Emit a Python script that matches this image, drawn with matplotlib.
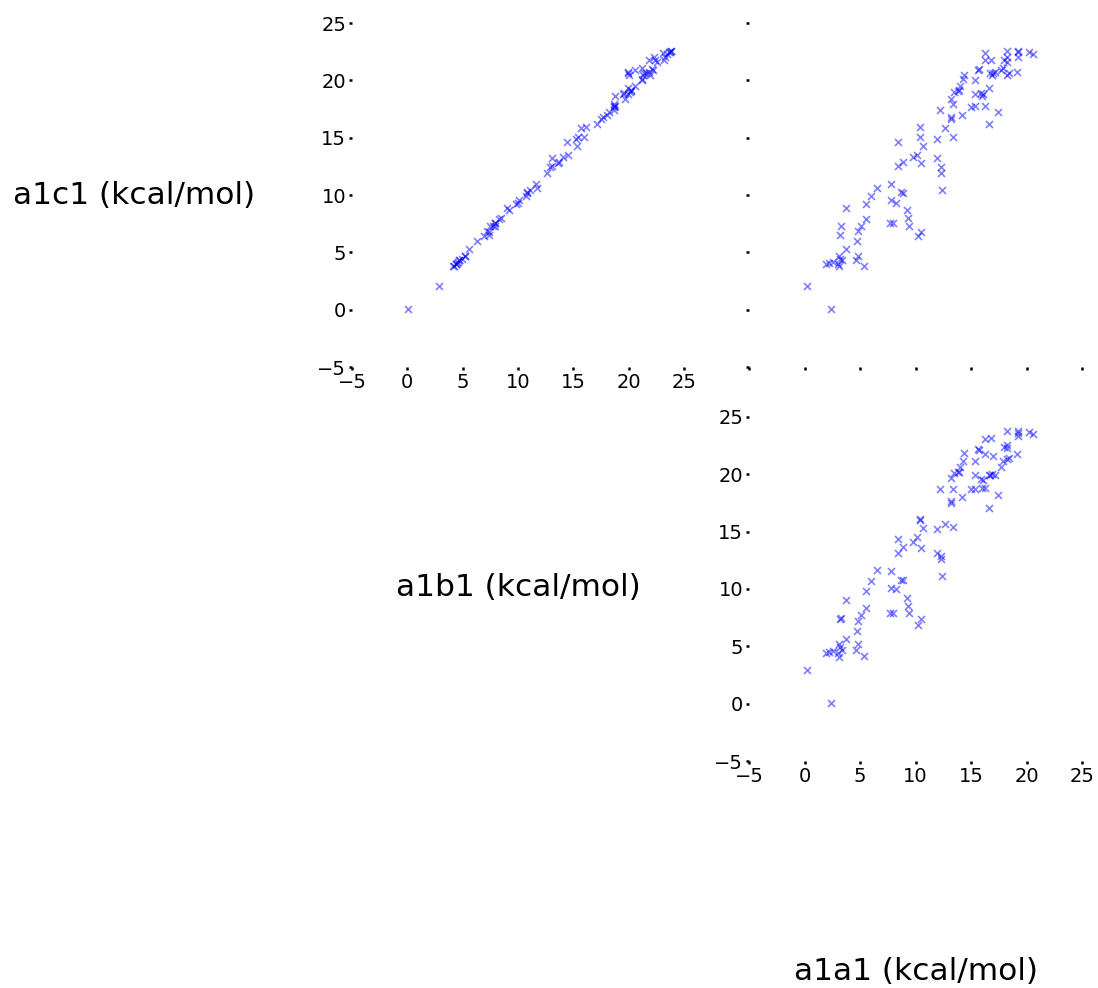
import matplotlib
matplotlib.use('Agg')
import matplotlib.pyplot as plt

# energies, one entry per structure
a1a1 = [0.2, 2.4, 1.9, 2.2, 2.6, 3.0, 3.2, 3.4, 3.1, 3.1, 3.3, 3.2, 3.7, 3.7, 4.6,
        4.8, 4.7, 4.8, 5.1, 5.4, 5.5, 5.5, 6.0, 6.5, 7.8, 7.8, 8.2, 7.7, 8.0, 8.7,
        8.9, 9.2, 9.3, 9.4, 10.2, 10.5, 8.4, 8.4, 8.9, 9.8, 10.1, 10.4, 10.4, 10.7,
        10.5, 11.9, 11.9, 12.3, 12.3, 12.4, 12.7, 13.4, 12.2, 13.2, 13.2, 13.4, 13.2,
        13.5, 13.8, 13.9, 14.0, 14.2, 14.3, 14.4, 15.4, 15.4, 15.0, 15.4, 15.6, 15.7,
        16.0, 16.3, 15.9, 16.1, 16.3, 16.6, 16.6, 16.7, 16.8, 16.3, 17.0, 16.9, 17.2,
        17.4, 17.7, 17.9, 18.0, 18.2, 18.2, 18.2, 18.2, 18.4, 19.1, 19.2, 19.2, 19.2,
        20.2, 20.6]
a1b1 = [2.9, 0.1, 4.4, 4.5, 4.6, 4.4, 4.9, 4.7, 5.2, 4.1, 7.5, 7.4, 5.6, 9.0, 4.7,
        5.2, 6.3, 7.2, 7.7, 4.2, 8.3, 9.8, 10.7, 11.7, 11.6, 10.1, 10.0, 7.9, 7.9, 10.8,
        10.8, 9.2, 8.5, 7.9, 6.9, 7.4, 14.4, 13.1, 13.7, 14.1, 14.5, 16.1, 16.0, 15.3,
        13.6, 15.2, 13.1, 12.9, 12.6, 11.1, 15.7, 15.4, 18.7, 17.5, 17.7, 18.7, 19.7,
        20.1, 20.2, 20.2, 20.6, 18.0, 21.2, 21.9, 21.2, 18.7, 18.7, 19.9, 22.2, 22.1,
        18.8, 18.8, 19.6, 19.5, 21.8, 19.9, 17.1, 19.9, 23.2, 23.1, 21.6, 20.0, 19.9,
        18.2, 20.6, 21.2, 22.4, 23.8, 22.6, 21.3, 22.3, 21.4, 21.8, 23.6, 23.3, 23.8,
        23.7, 23.5]
a1c1 = [2.1, 0.1, 4.0, 4.1, 4.2, 4.0, 4.4, 4.3, 4.7, 3.8, 7.3, 6.5, 5.3, 8.9, 4.3,
        4.7, 6.0, 6.9, 7.3, 3.8, 7.9, 9.2, 9.9, 10.6, 11.0, 9.6, 9.3, 7.6, 7.6, 10.3,
        10.2, 8.7, 8.0, 7.3, 6.4, 6.8, 14.6, 12.5, 12.9, 13.3, 13.5, 15.9, 15.1, 14.3,
        12.8, 14.9, 13.2, 12.4, 11.9, 10.4, 15.8, 15.1, 17.4, 16.6, 16.8, 17.9, 18.4,
        19.0, 19.1, 19.2, 19.5, 17.0, 20.1, 20.5, 20.0, 17.8, 17.7, 18.8, 20.9, 21.0,
        18.6, 17.8, 18.9, 18.8, 21.8, 19.3, 16.2, 20.6, 21.8, 22.4, 20.6, 20.5, 20.7,
        17.2, 20.9, 21.1, 21.8, 22.6, 21.6, 20.5, 22.0, 20.6, 20.7, 22.5, 22.0, 22.6,
        22.5, 22.3]

lim = (-5, 25)
ticks = [-5, 0, 5, 10, 15, 20, 25]

fig = plt.figure(figsize=(10.98, 9.88), dpi=100)
W, H = 1098, 988


def make_ax(left, top, right, bottom):
  return fig.add_axes([left / W, 1 - bottom / H, (right - left) / W, (bottom - top) / H])


def style(ax, labels=True):
  ax.set_xlim(lim)
  ax.set_ylim(lim)
  ax.set_xticks(ticks)
  ax.set_yticks(ticks)
  for s in ax.spines.values():
    s.set_visible(False)
  ax.tick_params(length=2.2, width=1.8, pad=2, labelsize=14)
  if not labels:
    ax.set_xticklabels([])
    ax.set_yticklabels([])


panels = [
  ((352, 23, 684, 367), a1b1, a1c1, True),
  ((749, 23, 1082, 367), a1a1, a1c1, False),
  ((749, 417, 1082, 761), a1a1, a1b1, True),
]
for box, xs, ys, lab in panels:
  ax = make_ax(*box)
  ax.scatter(xs, ys, marker='x', s=25, color='blue', alpha=0.5, linewidths=1.2)
  style(ax, lab)

fig.text(134 / W, 1 - 195 / H, 'a1c1 (kcal/mol)', fontsize=22.5, ha='center', va='center')
fig.text(518 / W, 1 - 587 / H, 'a1b1 (kcal/mol)', fontsize=22.5, ha='center', va='center')
fig.text(916 / W, 1 - 971 / H, 'a1a1 (kcal/mol)', fontsize=22.5, ha='center', va='center')

fig.savefig('out.png', dpi=100)
